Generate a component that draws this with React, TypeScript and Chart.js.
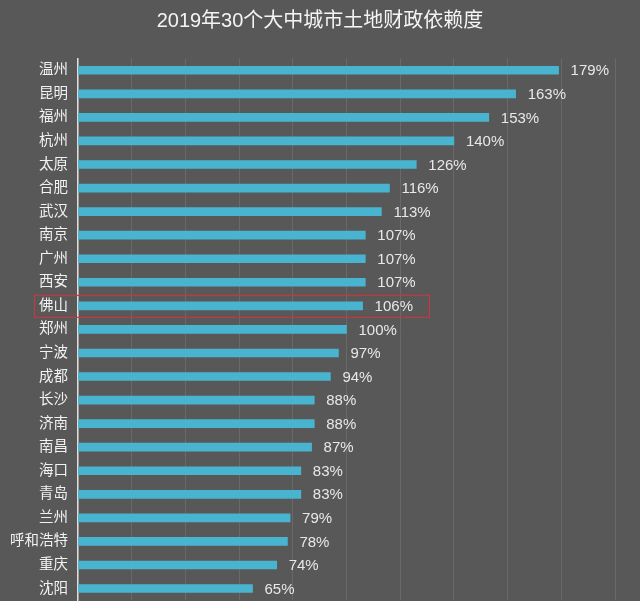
import React, { useEffect, useRef } from "react";
import { Chart, registerables } from "chart.js";

Chart.register(...registerables);

const TITLE = "2019年30个大中城市土地财政依赖度";
const cities = [
  "温州", "昆明", "福州", "杭州", "太原", "合肥", "武汉", "南京", "广州", "西安",
  "佛山", "郑州", "宁波", "成都", "长沙", "济南", "南昌", "海口", "青岛", "兰州",
  "呼和浩特", "重庆", "沈阳",
];
const dependency = [
  179, 163, 153, 140, 126, 116, 113, 107, 107, 107,
  106, 100, 97, 94, 88, 88, 87, 83, 83, 79,
  78, 74, 65,
];
const highlightCity = "佛山";

const FONT = '"Liberation Sans", "Noto Sans CJK SC", sans-serif';

const titleAndLabels = {
  id: "titleAndLabels",
  afterDatasetsDraw(chart: any) {
    const { ctx } = chart;
    const meta = chart.getDatasetMeta(0);
    ctx.save();
    // title
    ctx.font = `20px ${FONT}`;
    ctx.fillStyle = "#f4f4f4";
    ctx.textAlign = "center";
    ctx.textBaseline = "middle";
    ctx.fillText(TITLE, chart.width / 2, 21);
    // value labels
    ctx.font = `15px ${FONT}`;
    ctx.fillStyle = "#e8e8e8";
    ctx.textAlign = "left";
    meta.data.forEach((bar: any, i: number) => {
      ctx.fillText(`${dependency[i]}%`, bar.x + 12, bar.y + 1);
    });
    // highlight box
    const idx = cities.indexOf(highlightCity);
    if (idx >= 0) {
      const bar = meta.data[idx];
      const w = ctx.measureText(`${dependency[idx]}%`).width;
      const left = chart.chartArea.left - 44;
      const right = bar.x + 12 + w + 16;
      ctx.strokeStyle = "#c23a42";
      ctx.lineWidth = 1.2;
      ctx.strokeRect(left + 0.5, bar.y - 10.5, right - left, 22);
    }
    ctx.restore();
  },
};

export default function App() {
  const ref = useRef<HTMLCanvasElement>(null);
  useEffect(() => {
    if (!ref.current) return;
    const chart = new Chart(ref.current, {
      type: "bar",
      data: {
        labels: cities,
        datasets: [
          {
            data: dependency,
            backgroundColor: "#48b4d0",
            barThickness: 8,
            borderWidth: 0,
          },
        ],
      },
      options: {
        indexAxis: "y",
        animation: false,
        responsive: true,
        maintainAspectRatio: false,
        layout: { padding: { left: 0, right: 25, top: 58.5, bottom: 1 } },
        plugins: {
          legend: { display: false },
          tooltip: { enabled: false },
          title: { display: false },
        },
        scales: {
          x: {
            min: 0,
            max: 200,
            afterFit: (axis: any) => {
              axis.height = 0;
            },
            ticks: { display: false, stepSize: 20 },
            grid: { color: "rgba(255,255,255,0.10)", drawTicks: false, lineWidth: 1 },
            border: { display: false },
          },
          y: {
            afterFit: (axis: any) => {
              axis.width = 78;
            },
            ticks: {
              color: "#f2f2f2",
              font: { size: 14.5, family: FONT },
              padding: 10,
            },
            grid: { display: false, drawTicks: false },
            border: { display: true, color: "#dedede", width: 1.5 },
          },
        },
      },
      plugins: [titleAndLabels],
    });
    return () => chart.destroy();
  }, []);
  return (
    <div
      style={{
        position: "absolute",
        left: 0,
        top: 0,
        width: 640,
        height: 601,
        overflow: "hidden",
        background: "#585858",
      }}
    >
      <div style={{ position: "relative", width: 640, height: 619 }}>
        <canvas ref={ref} />
      </div>
    </div>
  );
}
